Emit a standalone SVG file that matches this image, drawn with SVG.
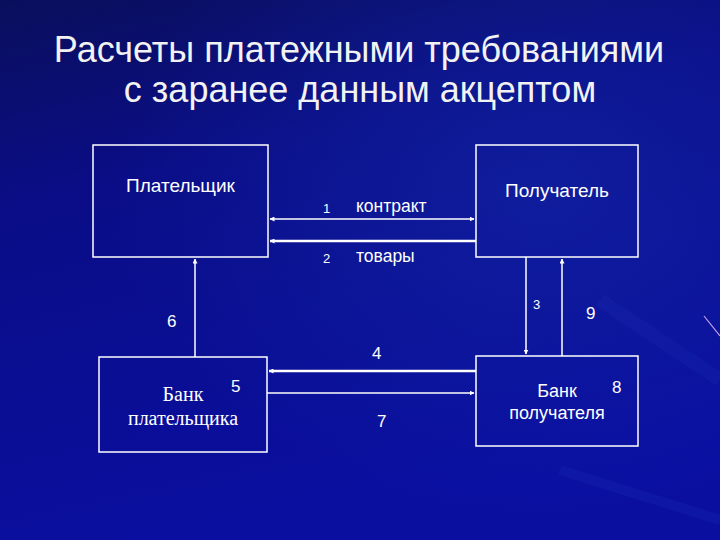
<svg xmlns="http://www.w3.org/2000/svg" width="720" height="540" viewBox="0 0 720 540">
  <defs>
    <linearGradient id="bg" x1="0" y1="0" x2="0.3" y2="1">
      <stop offset="0" stop-color="#0a0f5c"/>
      <stop offset="0.35" stop-color="#0a0d86"/>
      <stop offset="1" stop-color="#0a0fa0"/>
    </linearGradient>
    <radialGradient id="glow" cx="0.75" cy="0.35" r="0.6">
      <stop offset="0" stop-color="#1530b0" stop-opacity="0.45"/>
      <stop offset="1" stop-color="#1530b0" stop-opacity="0"/>
    </radialGradient>
    <marker id="ah" viewBox="0 0 10 10" refX="9" refY="5" markerWidth="5" markerHeight="5" orient="auto-start-reverse" markerUnits="userSpaceOnUse">
      <path d="M0,0 L10,5 L0,10 z" fill="#ffffff"/>
    </marker>
    <style>
      .box { fill: none; stroke: #ffffff; stroke-width: 1.5; }
      .ln { stroke: #ffffff; stroke-width: 1.5; fill: none; }
      .thick { stroke-width: 2.5; }
      .sans { font-family: "Liberation Sans", Arial, sans-serif; fill: #ffffff; }
      .serif { font-family: "Liberation Serif", "Times New Roman", serif; fill: #ffffff; }
      .title { font-size: 36px; fill: #f2f2f2; }
      .lbl { font-size: 18px; }
      .num { font-size: 13px; }
      .numb { font-size: 17px; }
    </style>
  </defs>
  <rect width="720" height="540" fill="url(#bg)"/>
  <rect width="720" height="540" fill="url(#glow)"/>
  <path d="M560,470 L720,520" stroke="#3050d0" stroke-opacity="0.12" stroke-width="10"/>
  <path d="M600,300 L720,380" stroke="#3050d0" stroke-opacity="0.1" stroke-width="14"/>
  <path d="M704,316 L720,336" stroke="#c8a0e8" stroke-width="1.2"/>

  <g id="title">
    <text class="sans title" x="359" y="62" text-anchor="middle">Расчеты платежными требованиями</text>
    <text class="sans title" x="360" y="102" text-anchor="middle">с заранее данным акцептом</text>
  </g>

  <g id="payer">
    <rect class="box" x="93" y="145" width="175" height="112"/>
    <text class="sans lbl" x="180.5" y="192" text-anchor="middle" style="font-size:19px">Плательщик</text>
  </g>
  <g id="receiver">
    <rect class="box" x="476" y="145" width="162" height="112"/>
    <text class="sans lbl" x="557" y="197" text-anchor="middle" style="font-size:19px">Получатель</text>
  </g>
  <g id="payer-bank">
    <rect class="box" x="99" y="357" width="168" height="95"/>
    <text class="serif lbl" x="183" y="401" text-anchor="middle" style="font-size:20px">Банк</text>
    <text class="serif lbl" x="183" y="425" text-anchor="middle" style="font-size:20px">плательщика</text>
  </g>
  <g id="receiver-bank">
    <rect class="box" x="476" y="356" width="162" height="90"/>
    <text class="sans lbl" x="557" y="397" text-anchor="middle">Банк</text>
    <text class="sans lbl" x="557" y="419" text-anchor="middle">получателя</text>
  </g>

  <g id="connectors">
    <line class="ln" x1="270" y1="219" x2="474" y2="219" marker-start="url(#ah)" marker-end="url(#ah)"/>
    <line class="ln thick" x1="476" y1="241" x2="270" y2="241" marker-end="url(#ah)"/>
    <line class="ln" x1="526" y1="257" x2="526" y2="354" marker-end="url(#ah)"/>
    <line class="ln" x1="562" y1="356" x2="562" y2="259" marker-end="url(#ah)"/>
    <line class="ln" x1="195" y1="357" x2="195" y2="259" marker-end="url(#ah)"/>
    <line class="ln thick" x1="476" y1="371" x2="269" y2="371" marker-end="url(#ah)"/>
    <line class="ln" x1="267" y1="393" x2="474" y2="393" marker-end="url(#ah)"/>
  </g>

  <g id="labels">
    <text class="sans num" x="323" y="213">1</text>
    <text class="sans lbl" x="356" y="212" style="font-size:17.5px">контракт</text>
    <text class="sans num" x="323" y="263">2</text>
    <text class="sans lbl" x="356" y="262" style="font-size:17.5px">товары</text>
    <text class="sans num" x="533" y="309">3</text>
    <text class="sans numb" x="586" y="319">9</text>
    <text class="sans numb" x="167" y="327">6</text>
    <text class="sans numb" x="372" y="359">4</text>
    <text class="sans numb" x="231" y="392">5</text>
    <text class="sans numb" x="377" y="427">7</text>
    <text class="sans numb" x="612" y="393">8</text>
  </g>
</svg>
